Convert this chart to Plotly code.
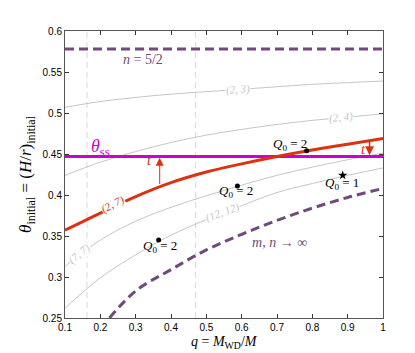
import plotly.graph_objects as go

# q = M_WD / M sample points
q_vals = [0.1, 0.2, 0.3, 0.4, 0.5, 0.6, 0.7, 0.8, 0.9, 1.0]

# grey (m, n) tracks
theta_2_3 = [0.507, 0.514, 0.519, 0.523, 0.526, 0.529, 0.532, 0.535, 0.537, 0.539]
theta_2_4 = [0.424, 0.440, 0.453, 0.464, 0.473, 0.480, 0.486, 0.491, 0.495, 0.499]
theta_7_7 = [0.313, 0.345, 0.368, 0.385, 0.399, 0.412, 0.424, 0.434, 0.443, 0.451]
theta_12_12 = [0.262, 0.299, 0.327, 0.351, 0.370, 0.387, 0.403, 0.414, 0.424, 0.433]

# highlighted (2,7) track
theta_2_7 = [0.357, 0.378, 0.398, 0.415, 0.428, 0.438, 0.447, 0.455, 0.462, 0.469]

# m, n -> infinity limit
q_inf = [0.226, 0.3, 0.4, 0.5, 0.6, 0.7, 0.8, 0.9, 1.0]
theta_inf = [0.25, 0.283, 0.309, 0.333, 0.352, 0.369, 0.384, 0.397, 0.408]

theta_n52 = 0.578
theta_ss = 0.447
q_vlines = [0.162, 0.47]

# Q0 markers
q0_2_q = [0.365, 0.588, 0.784]
q0_2_theta = [0.345, 0.411, 0.454]
q0_1_q = [0.886]
q0_1_theta = [0.424]

GREY = "#c6c6c6"
RED = "#dc3212"
MAG = "#cc00cc"
PURP = "#6f4a7b"
SERIF = "Liberation Serif"

fig = go.Figure()

for yv in [theta_2_3, theta_2_4, theta_7_7, theta_12_12]:
    fig.add_trace(go.Scatter(x=q_vals, y=yv, mode="lines", line_shape="spline",
                             line=dict(color=GREY, width=1)))

fig.add_trace(go.Scatter(x=[0.1, 1.0], y=[theta_n52, theta_n52], mode="lines",
                         line=dict(color=PURP, width=3, dash="9px,5px")))
fig.add_trace(go.Scatter(x=q_inf, y=theta_inf, mode="lines", line_shape="spline",
                         line=dict(color=PURP, width=3, dash="9px,5px")))
fig.add_trace(go.Scatter(x=[0.1, 1.0], y=[theta_ss, theta_ss], mode="lines",
                         line=dict(color=MAG, width=3)))
fig.add_trace(go.Scatter(x=q_vals, y=theta_2_7, mode="lines", line_shape="spline",
                         line=dict(color=RED, width=3)))

fig.add_trace(go.Scatter(x=q0_2_q, y=q0_2_theta, mode="markers",
                         marker=dict(color="black", size=5)))
fig.add_trace(go.Scatter(x=q0_1_q, y=q0_1_theta, mode="markers",
                         marker=dict(color="black", size=7, symbol="star")))

for xv in q_vlines:
    fig.add_vline(x=xv, line=dict(color="#d8d8d8", width=1, dash="6px,4px"), layer="below")

# curve labels sitting on the lines
curve_labels = [
    ("(2, 3)", 0.59, 0.5285, -3, GREY),
    ("(2, 4)", 0.88, 0.494, -6, GREY),
    ("(2, 7)", 0.235, 0.388, -28, RED),
    ("(7, 7)", 0.141, 0.329, -40, GREY),
    ("(12, 12)", 0.545, 0.379, -20, GREY),
]
for txt, xx, yy, ang, col in curve_labels:
    fig.add_annotation(x=xx, y=yy, text="<i>" + txt + "</i>", showarrow=False,
                       textangle=ang, bgcolor="white", borderpad=0,
                       font=dict(family=SERIF, size=11, color=col))

q_txt = "<i>Q</i><sub>0</sub> = %s"
for txt, xx, yy in [(q_txt % 2, 0.37, 0.337), (q_txt % 2, 0.585, 0.404),
                    (q_txt % 2, 0.737, 0.462), (q_txt % 1, 0.885, 0.4145)]:
    fig.add_annotation(x=xx, y=yy, text=txt, showarrow=False,
                       font=dict(family=SERIF, size=13, color="black"))

fig.add_annotation(x=0.32, y=0.5655, text="<i>n</i> = 5/2", showarrow=False,
                   font=dict(family=SERIF, size=14, color=PURP))
fig.add_annotation(x=0.708, y=0.3425, text="<i>m</i>, <i>n</i> → ∞", showarrow=False,
                   font=dict(family=SERIF, size=14, color=PURP))
fig.add_annotation(x=0.2, y=0.4575, text="<i>θ</i><sub>ss</sub>", showarrow=False,
                   font=dict(family=SERIF, size=18, color=MAG))

# time arrows
fig.add_annotation(x=0.368, y=0.4455, ax=0.368, ay=0.4115, xref="x", yref="y",
                   axref="x", ayref="y", showarrow=True, arrowhead=2, arrowsize=1.6,
                   arrowwidth=1, arrowcolor=RED, text="")
fig.add_annotation(x=0.34, y=0.4415, text="<i>t</i>", showarrow=False,
                   font=dict(family=SERIF, size=14, color=RED))
fig.add_annotation(x=0.962, y=0.4485, ax=0.962, ay=0.4675, xref="x", yref="y",
                   axref="x", ayref="y", showarrow=True, arrowhead=2, arrowsize=1.2,
                   arrowwidth=1.5, arrowcolor=RED, text="")
fig.add_annotation(x=0.945, y=0.4555, text="<i>t</i>", showarrow=False,
                   font=dict(family=SERIF, size=14, color=RED))

# x-axis title placed as an annotation so the subscript is not clipped
fig.add_annotation(x=0.5, y=-0.085, xref="paper", yref="paper", yanchor="middle",
                   text="<i>q</i> = <i>M</i><sub>WD</sub>/<i>M</i>", showarrow=False,
                   font=dict(family=SERIF, size=14, color="black"))

axis_common = dict(showline=True, linecolor="#555", linewidth=1, mirror="ticks",
                   ticks="inside", ticklen=4, tickcolor="#333", showgrid=False,
                   zeroline=False, tickfont=dict(family="Liberation Sans", size=10, color="black"))

fig.update_xaxes(range=[0.1, 1.0], dtick=0.1, tick0=0.1, **axis_common)
fig.update_yaxes(range=[0.25, 0.6], dtick=0.05, tick0=0.25,
                 title=dict(text="<i>θ</i><sub>initial</sub> = (<i>H</i>/<i>r</i>)<sub>initial</sub>",
                            font=dict(family=SERIF, size=17, color="black"), standoff=6),
                 **axis_common)

fig.update_layout(width=415, height=353, showlegend=False,
                  plot_bgcolor="white", paper_bgcolor="white",
                  margin=dict(l=57, r=40, t=23, b=43))

fig.write_html("out.html")
